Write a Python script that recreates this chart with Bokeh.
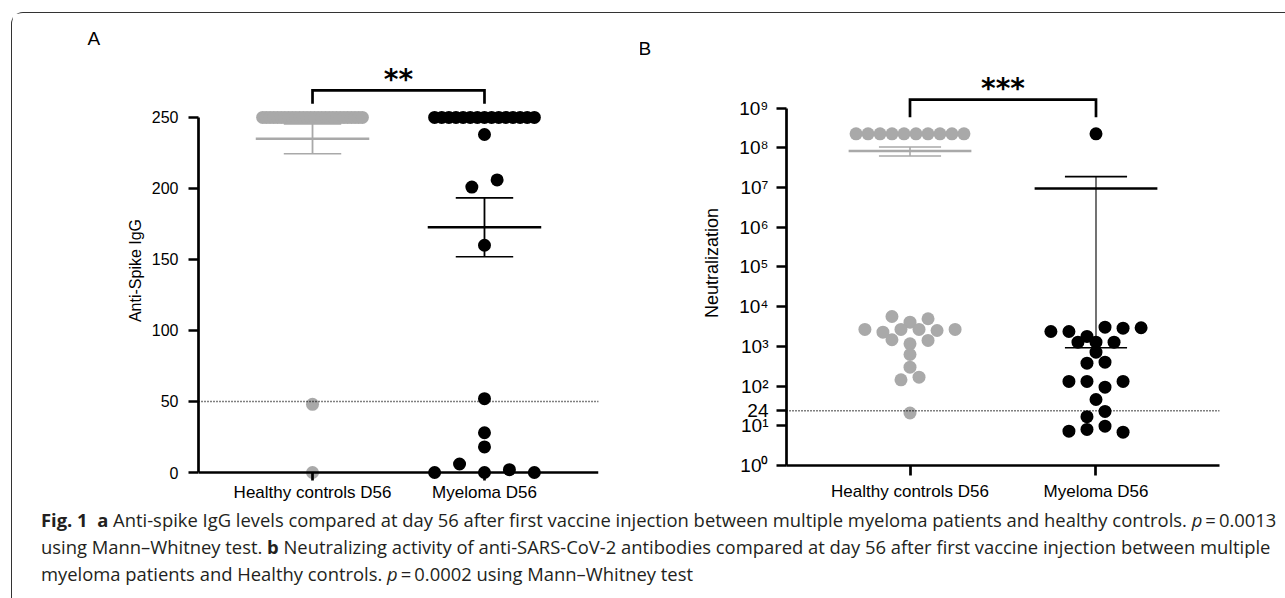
import numpy as np
from bokeh.plotting import figure
from bokeh.models import Range1d, FixedTicker, Div, Span, LinearAxis
from bokeh.layouts import row, column
from bokeh.embed import file_html
from bokeh.resources import INLINE
from bokeh.core.properties import value

# ---------------- data ----------------
categories = ["Healthy controls D56", "Myeloma D56"]

igg_healthy = [250, 250, 250, 250, 250, 250, 250, 250, 250, 250,
               250, 250, 250, 250, 250, 250, 250, 250, 250, 250,
               250, 250, 250, 250, 250, 250, 250, 250, 48, 0]
igg_myeloma = [250, 250, 250, 250, 250, 250, 250, 250, 250, 250,
               250, 250, 250, 250, 250, 238, 201, 206, 160, 52,
               28, 18, 0, 6, 0, 2, 0]
igg_ticks = [0, 50, 100, 150, 200, 250]
igg_cutoff = 50

neut_healthy = [2.26e8, 2.26e8, 2.26e8, 2.26e8, 2.26e8, 2.26e8, 2.26e8, 2.26e8, 2.26e8, 2.26e8,
                5660, 4070, 4960, 2670, 2280, 2670, 2670, 2510, 2670,
                1470, 1160, 1410, 625, 299, 144, 168, 21]
neut_myeloma = [2.26e8, 2370, 2370, 1780, 3050, 2870, 2950, 1280, 1280, 1280,
                714, 378, 400, 131, 131, 94, 131, 46, 17, 23,
                7.3, 8.1, 9.8, 6.9]
neut_exponents = [0, 1, 2, 3, 4, 5, 6, 7, 8, 9]
neut_cutoff = 24

significance = ["**", "***"]
panel_letters = ["A", "B"]

# ---------------- styles ----------------
GRAY = "#a9a9a9"
COLORS = [GRAY, "black"]
FONT = "Liberation Sans"
DOT = 13
MEAN_HALF = 0.33
CAP_HALF = 0.167


def swarm(vals, transform, row_h, step, max_half):
    """GraphPad-like column scatter: bin into rows, spread each row centred."""
    t = [transform(v) for v in vals]
    order = sorted(range(len(vals)), key=lambda i: -t[i])
    rows = []
    for i in order:
        if rows and rows[-1][0] - t[i] <= row_h:
            rows[-1][1].append(i)
        else:
            rows.append([t[i], [i]])
    off = [0.0] * len(vals)
    for _, idx in rows:
        idx = sorted(idx)
        k = len(idx)
        s = step if k < 2 else min(step, 2 * max_half / (k - 1))
        for j, i in enumerate(idx):
            off[i] = (j - (k - 1) / 2) * s
    return off


def style_axis(ax):
    ax.axis_line_width = 2.7
    ax.axis_line_color = "black"
    ax.major_tick_line_width = 2.7
    ax.major_tick_line_color = "black"
    ax.major_tick_out = 10
    ax.major_tick_in = 0
    ax.minor_tick_line_color = None
    ax.major_label_text_font = FONT
    ax.major_label_text_color = "black"
    ax.axis_label_text_font = FONT
    ax.axis_label_text_font_style = "normal"
    ax.axis_label_text_color = "black"


def style(p, letter, offset, standoff):
    p.grid.visible = False
    p.outline_line_color = None
    p.background_fill_color = "white"
    p.border_fill_color = "white"
    for ax in p.axis:
        style_axis(ax)
    p.title.text = letter
    p.title.align = "left"
    p.title.offset = offset
    p.title.standoff = standoff
    p.title.text_font = FONT
    p.title.text_font_size = "19px"
    p.title.text_font_style = "normal"
    p.title.text_color = "black"


def draw_group(p, xc, vals, offs, color, whisker_w):
    p.scatter([xc + o for o in offs], vals, size=DOT, fill_color=color, line_color=None)
    a = np.array(vals, dtype=float)
    m = a.mean()
    sem = a.std(ddof=1) / np.sqrt(len(a))
    lo, hi = m - sem, m + sem
    p.segment(x0=[xc], y0=[lo], x1=[xc], y1=[hi], line_color=color, line_width=whisker_w)
    p.segment(x0=[xc - CAP_HALF] * 2, y0=[lo, hi], x1=[xc + CAP_HALF] * 2, y1=[lo, hi],
              line_color=color, line_width=1.6)
    p.segment(x0=[xc - MEAN_HALF], y0=[m], x1=[xc + MEAN_HALF], y1=[m],
              line_color=color, line_width=2.5)


# ---------------- panel A ----------------
pA = figure(frame_width=400, frame_height=420,
            min_border_left=186, min_border_right=42, min_border_top=47, min_border_bottom=25,
            x_range=Range1d(0.337, 2.663), y_range=Range1d(-5.63, 290.1),
            output_backend="svg", toolbar_location=None)
style(pA, panel_letters[0], -111, 23)
pA.yaxis.ticker = FixedTicker(ticks=igg_ticks)
pA.yaxis.bounds = (igg_ticks[0], igg_ticks[-1])
pA.yaxis.axis_label = "Anti-Spike IgG"
pA.yaxis.major_label_text_font_size = "16px"
pA.yaxis.axis_label_text_font_size = "16px"
pA.yaxis.major_label_standoff = 10
pA.yaxis.axis_label_standoff = 5
# category labels (axis at frame bottom, labels only)
pA.xaxis.ticker = FixedTicker(ticks=[1, 2])
pA.xaxis.major_label_overrides = {1: categories[0], 2: categories[1]}
pA.xaxis.major_label_text_font_size = "17px"
pA.xaxis.major_label_standoff = 2
pA.xaxis.axis_line_color = None
pA.xaxis.major_tick_line_color = None
pA.xaxis.major_tick_out = 0
# axis line + ticks drawn at y = 0 (no labels)
zero_axis = LinearAxis(fixed_location=0, ticker=FixedTicker(ticks=[1, 2]))
style_axis(zero_axis)
zero_axis.major_tick_out = 0
zero_axis.major_tick_in = 10
zero_axis.major_label_text_color = None
zero_axis.major_label_standoff = 0
pA.add_layout(zero_axis, "above")

pA.add_layout(Span(location=igg_cutoff, dimension="width", line_color="black",
                   line_width=1.6, line_dash="1 2"))
for i, vals in enumerate([igg_healthy, igg_myeloma]):
    offs = swarm(vals, lambda v: v, 7.0, 0.147, 0.29)
    draw_group(pA, i + 1, vals, offs, COLORS[i], 1.8)

pA.multi_line(xs=[[1, 1, 2, 2]], ys=[[259.6, 269, 269, 259.6]], line_color="black",
              line_width=2.7, line_join="miter")
pA.text(x=[1.5], y=[277], text=[significance[0]], text_font=value("DejaVu Sans"),
        text_font_style="bold", text_font_size="28px", text_align="center",
        text_baseline="alphabetic", text_color="black")

# ---------------- panel B ----------------
pB = figure(frame_width=433, frame_height=405,
            min_border_left=146, min_border_right=66, min_border_top=47, min_border_bottom=40,
            x_range=Range1d(0.336, 2.664), y_range=Range1d(1, 10 ** 10.2),
            y_axis_type="log", output_backend="svg", toolbar_location=None)
style(pB, panel_letters[1], -148, 4)
sup = str.maketrans("0123456789", "⁰¹²³⁴⁵⁶⁷⁸⁹")
b_ticks = [10 ** e for e in neut_exponents] + [neut_cutoff]
b_labels = {10 ** e: "10" + str(e).translate(sup) for e in neut_exponents}
b_labels[neut_cutoff] = str(neut_cutoff)
pB.yaxis.ticker = FixedTicker(ticks=b_ticks)
pB.yaxis.major_label_overrides = b_labels
pB.yaxis.bounds = (10 ** neut_exponents[0], 10 ** neut_exponents[-1])
pB.yaxis.axis_label = "Neutralization"
pB.yaxis.major_label_text_font_size = "19px"
pB.yaxis.axis_label_text_font_size = "18px"
pB.yaxis.major_label_standoff = 8
pB.yaxis.axis_label_standoff = 14
pB.xaxis.ticker = FixedTicker(ticks=[1, 2])
pB.xaxis.major_label_overrides = {1: categories[0], 2: categories[1]}
pB.xaxis.major_label_text_font_size = "17px"
pB.xaxis.major_label_standoff = 6

pB.add_layout(Span(location=neut_cutoff, dimension="width", line_color="black",
                   line_width=1.6, line_dash="1 2"))
for i, vals in enumerate([neut_healthy, neut_myeloma]):
    offs = swarm(vals, np.log10, 0.25, 0.097, 0.29)
    draw_group(pB, i + 1, vals, offs, COLORS[i], 1.6 if i == 0 else 1.1)

pB.multi_line(xs=[[1, 1, 2, 2]], ys=[[5.93e8, 1.63e9, 1.63e9, 5.93e8]], line_color="black",
              line_width=2.7, line_join="miter")
pB.text(x=[1.5], y=[3.1e9], text=[significance[1]], text_font=value("DejaVu Sans"),
        text_font_style="bold", text_font_size="28px", text_align="center",
        text_baseline="alphabetic", text_color="black")

# ---------------- caption ----------------
caption_html = (
    '<div style="font-family:\'Open Sans\';font-size:18.4px;line-height:27px;'
    'padding-left:24px;margin-top:-4px;color:#231f20;white-space:nowrap;">'
    '<b>Fig.&nbsp;1</b>&nbsp; <b>a</b> Anti-spike IgG levels compared at day 56 after first vaccine '
    'injection between multiple myeloma patients and healthy controls. <i>p</i>&thinsp;=&thinsp;0.0013<br>'
    'using Mann–Whitney test. <b>b</b> Neutralizing activity of anti-SARS-CoV-2 antibodies compared at '
    'day 56 after first vaccine injection between multiple<br>'
    'myeloma patients and Healthy controls. <i>p</i>&thinsp;=&thinsp;0.0002 using Mann–Whitney test'
    '</div>'
)
cap = Div(text=caption_html, width=1273, height=92)

layout = column(row(pA, pB), cap,
                styles={"margin-left": "11px", "margin-top": "12px",
                        "border-left": "1px solid #333333", "border-top": "1px solid #333333",
                        "border-top-left-radius": "12px"})

open("out.html", "w").write(file_html(layout, INLINE))
